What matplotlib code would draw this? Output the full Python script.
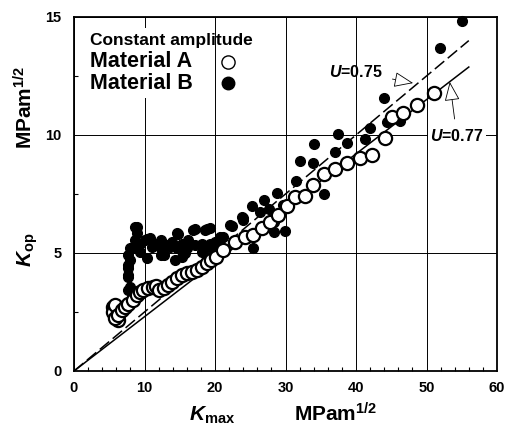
import matplotlib
matplotlib.use("Agg")
import matplotlib.pyplot as plt
from matplotlib.patches import Rectangle

plt.rcParams['font.family'] = ['Liberation Sans', 'DejaVu Sans']
plt.rcParams['font.weight'] = 'bold'
plt.rcParams['mathtext.fontset'] = 'custom'
plt.rcParams['mathtext.rm'] = 'Liberation Sans:bold'
plt.rcParams['mathtext.bf'] = 'Liberation Sans:bold'
plt.rcParams['mathtext.it'] = 'Liberation Sans:italic:bold'

# Material A (open circles): Kmax, Kop in MPam^1/2
kmax_a = [5.6, 5.8, 6.3, 5.6, 5.8, 5.8, 6.3, 6.8, 7.2, 7.7, 8.4, 8.9, 9.4, 9.8,
          10.5, 11.2, 11.7, 12.0, 12.7, 13.4, 13.9, 14.6, 15.3, 16.0, 16.7, 17.4,
          18.1, 18.8, 19.5, 20.2, 21.2, 22.8, 24.3, 25.4, 26.6, 27.8, 29.0, 30.2,
          31.3, 32.8, 33.9, 35.4, 37.0, 38.7, 40.6, 42.2, 44.1, 45.1, 46.7, 48.6, 51.0]
kop_a = [2.70, 2.44, 2.16, 2.51, 2.23, 2.80, 2.37, 2.58, 2.72, 2.86, 3.00, 3.22, 3.36, 3.43,
         3.50, 3.57, 3.60, 3.43, 3.50, 3.64, 3.78, 3.92, 4.07, 4.14, 4.20, 4.28,
         4.42, 4.56, 4.70, 4.84, 5.13, 5.48, 5.69, 5.76, 6.05, 6.33, 6.61, 6.99,
         7.36, 7.42, 7.88, 8.35, 8.54, 8.80, 9.01, 9.15, 9.86, 10.78, 10.92, 11.27, 11.76]

# Material B (filled circles)
kmax_b = [7.7, 7.9, 7.7, 7.7, 7.7, 7.7, 7.9, 7.7, 7.9, 8.2, 8.65, 8.9, 8.65, 8.9, 9.4, 9.4,
          10.1, 10.3, 10.8, 10.3, 11.0, 11.5, 12.0, 12.4, 12.4, 12.4, 12.7, 13.1, 13.6, 13.9,
          14.3, 14.6, 14.6, 14.8, 15.3, 15.3, 15.7, 16.0, 16.2, 16.9, 17.2, 17.2, 18.1, 18.1,
          18.6, 18.8, 19.3, 19.3, 19.5, 20.0, 20.7, 20.7, 21.2, 22.1, 22.4, 23.8, 24.0, 24.0,
          25.2, 25.4, 26.4, 26.9, 27.6, 28.3, 28.3, 28.8, 29.7, 29.9, 31.5, 32.1, 33.9, 34.1,
          35.4, 37.0, 37.5, 38.7, 41.3, 42.0, 44.0, 44.4, 46.2, 51.9, 55.0]
kop_b = [3.43, 3.57, 4.00, 4.07, 4.35, 4.49, 4.70, 4.92, 5.20, 5.20, 5.55, 5.83, 6.10, 6.10, 5.05, 5.40,
         5.55, 5.60, 5.62, 4.77, 5.26, 5.40, 5.40, 5.55, 5.20, 4.90, 4.92, 5.34, 5.26, 5.48,
         4.70, 5.20, 5.83, 5.80, 5.40, 4.84, 4.98, 5.20, 5.55, 5.97, 5.34, 6.00, 5.05, 5.40,
         5.97, 6.00, 5.40, 6.05, 5.20, 5.48, 5.55, 5.69, 5.69, 6.20, 6.14, 6.54, 6.40, 6.47,
         6.99, 5.22, 6.75, 7.25, 6.85, 6.33, 5.90, 7.56, 7.03, 5.95, 8.06, 8.90, 8.83, 9.60,
         7.50, 9.30, 10.03, 9.65, 9.85, 10.28, 11.58, 10.56, 10.60, 13.70, 14.84]

# U-ratio lines, Kop = (1 - U) * Kmax
kmax_line = [0, 56]
u_dash = 0.75
u_solid = 0.77

fig = plt.figure(figsize=(5.09, 4.30), dpi=100)
ax = fig.add_axes([74 / 509, 59 / 430, 423 / 509, 354 / 430])

ax.set_xlim(0, 60)
ax.set_ylim(0, 15)
ax.set_xticks(range(0, 61, 10))
ax.set_yticks([0, 5, 10, 15])
ax.set_xticks(range(0, 61, 2), minor=True)
ax.set_yticks([2.5, 7.5, 12.5], minor=True)
ax.tick_params(which='both', direction='in', labelsize=10.5, width=0.8)
ax.tick_params(which='major', length=0, pad=7)
ax.tick_params(which='minor', length=3)
ax.tick_params(axis='y', pad=9)
for lab in ax.get_xticklabels() + ax.get_yticklabels():
    lab.set_fontweight('bold')
for s in ax.spines.values():
    s.set_linewidth(1.3)
ax.grid(True, which='major', color='black', lw=0.7, zorder=0)
ax.set_axisbelow(True)

ax.plot(kmax_line, [(1 - u_dash) * k for k in kmax_line], color='black', lw=1.1,
        linestyle=(0, (8, 3)), zorder=2)
ax.plot(kmax_line, [(1 - u_solid) * k for k in kmax_line], color='black', lw=1.1, zorder=2)

ax.plot(kmax_b, kop_b, 'o', color='black', ms=7, zorder=3, clip_on=False)
ax.plot(kmax_a, kop_a, 'o', mfc='white', mec='black', mew=1.6, ms=9.5, zorder=4)

# legend block
ax.add_patch(Rectangle((0.025, 0.77), 0.3, 0.2, transform=ax.transAxes,
                       facecolor='white', edgecolor='none', zorder=1))
ax.text(0.038, 0.935, 'Constant amplitude', transform=ax.transAxes, fontsize=12.5,
        fontweight='bold', va='center', ha='left', zorder=5)
ax.text(0.038, 0.873, 'Material A', transform=ax.transAxes, fontsize=15.5,
        fontweight='bold', va='center', ha='left', zorder=5)
ax.text(0.038, 0.813, 'Material B', transform=ax.transAxes, fontsize=15.5,
        fontweight='bold', va='center', ha='left', zorder=5)
ax.plot([0.364], [0.873], 'o', transform=ax.transAxes, mfc='white', mec='black',
        mew=1.0, ms=9.5, zorder=5)
ax.plot([0.364], [0.813], 'o', transform=ax.transAxes, color='black', ms=9, zorder=5)

arrow = dict(arrowstyle='-|>,head_length=0.6,head_width=0.24', fc='white', ec='black',
             lw=0.6, mutation_scale=20, shrinkA=5, shrinkB=0)
ax.annotate('$U$=0.75', xy=(48.1, 12.2), xytext=(40.0, 12.67), fontsize=11.5,
            fontweight='bold', ha='center', va='center', arrowprops=arrow, zorder=6)
ax.annotate('$U$=0.77', xy=(53.3, 12.25), xytext=(54.3, 9.96), fontsize=11.5,
            fontweight='bold', ha='center', va='center', arrowprops=arrow, zorder=6,
            bbox=dict(facecolor='white', edgecolor='none', pad=1.5))

fig.text(212 / 509, 9 / 430, '$K_{\\mathrm{max}}$', fontsize=15, ha='center', va='baseline')
fig.text(336 / 509, 9 / 430, 'MPam$^{\\mathrm{1/2}}$', fontsize=15, fontweight='bold',
         ha='center', va='baseline')
fig.text(28 / 509, 1 - 250 / 430, '$K_{\\mathrm{op}}$', fontsize=15, rotation=90,
         ha='center', va='center')
fig.text(25 / 509, 1 - 107 / 430, 'MPam$^{\\mathrm{1/2}}$', fontsize=15, fontweight='bold',
         rotation=90, ha='center', va='center')

fig.savefig('out.png', dpi=100)
